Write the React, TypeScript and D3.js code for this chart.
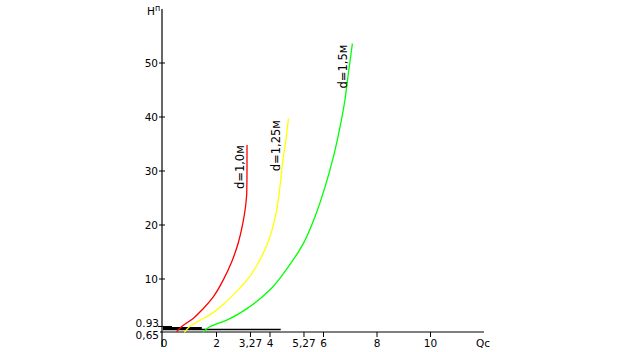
import React, { useEffect, useRef } from 'react';
import * as d3 from 'd3';

// Q (x) vs H (y)
const redQ = [0.5, 0.7, 1.13, 1.5, 1.88, 2.25, 2.57, 2.82, 2.98, 3.08, 3.13, 3.14, 3.14];
const redH = [0.2, 1.2, 2.7, 4.5, 6.7, 9.8, 13.2, 16.8, 20.2, 23.2, 26.0, 30.0, 34.8];

const yellowQ = [0.8, 1.0, 1.4, 1.76, 2.38, 2.9, 3.25, 3.55, 3.94, 4.22, 4.37, 4.47, 4.6, 4.69];
const yellowH = [0.1, 1.2, 2.4, 3.4, 5.9, 8.5, 10.5, 12.9, 17.0, 22.0, 27.0, 31.5, 36.0, 39.7];

const greenQ = [1.5, 1.76, 2.38, 3.25, 4.0, 4.69, 5.25, 5.68, 6.06, 6.37, 6.62, 6.8, 6.93, 7.08];
const greenH = [0.1, 1.2, 2.4, 4.9, 8.0, 12.3, 16.6, 21.5, 27.1, 32.6, 38.2, 43.1, 48.1, 53.6];

const seriesNames = ['d=1,0м', 'd=1,25м', 'd=1,5м'];
const seriesColors = ['#ff0000', '#ffff00', '#00ff00'];

const xTicks = [0, 2, 3.27, 4, 5.27, 6, 8, 10];
const yTicks = [10, 20, 30, 40, 50];

// flat black lines near the bottom
const flatH = [0.93, 0.65];
const flatQEnd = [1.45, 4.4];

const fmt = (v: number) => String(v).replace('.', ',');

const App = () => {
  const ref = useRef<SVGSVGElement | null>(null);

  useEffect(() => {
    if (!ref.current) return;
    const svg = d3.select(ref.current);
    svg.selectAll('*').remove();

    const x = d3.scaleLinear().domain([0, 12]).range([163, 484]);
    const y = d3.scaleLinear().domain([0, 60]).range([333, 9]);

    const font = 'DejaVu Sans, sans-serif';

    // axes
    svg.append('line')
      .attr('x1', x(0) - 1).attr('x2', x(0) - 1)
      .attr('y1', y(60)).attr('y2', y(0) + 14)
      .attr('stroke', '#000').attr('stroke-width', 1.2);
    svg.append('line')
      .attr('x1', x(0) - 3).attr('x2', x(12))
      .attr('y1', y(0) - 1).attr('y2', y(0) - 1)
      .attr('stroke', '#000').attr('stroke-width', 1.2);

    // x ticks
    const xt = svg.append('g');
    xTicks.forEach(t => {
      if (t !== 0) {
        xt.append('line')
          .attr('x1', x(t)).attr('x2', x(t))
          .attr('y1', y(0) - 1).attr('y2', y(0) + 4)
          .attr('stroke', '#000');
      }
      xt.append('text')
        .attr('x', x(t) + (t === 0 ? 1 : 0))
        .attr('y', y(0) + 14)
        .attr('text-anchor', 'middle')
        .style('font-family', font)
        .style('font-size', '10.5px')
        .text(fmt(t));
    });

    // y ticks
    const yt = svg.append('g');
    yTicks.forEach(t => {
      yt.append('line')
        .attr('x1', x(0) - 4).attr('x2', x(0) + 2)
        .attr('y1', y(t)).attr('y2', y(t))
        .attr('stroke', '#000');
      yt.append('text')
        .attr('x', x(0) - 5)
        .attr('y', y(t) + 4)
        .attr('text-anchor', 'end')
        .style('font-family', font)
        .style('font-size', '10.5px')
        .text(t);
    });

    // 0.93 / 0,65 labels
    yt.append('text')
      .attr('x', x(0) - 4).attr('y', y(flatH[0]) - 0.5)
      .attr('text-anchor', 'end')
      .style('font-family', font).style('font-size', '10.5px')
      .text('0.93');
    yt.append('line')
      .attr('x1', x(0) - 5).attr('x2', x(0) + 9)
      .attr('y1', y(flatH[0]) - 1.5).attr('y2', y(flatH[0]) - 1.5)
      .attr('stroke', '#000');
    yt.append('text')
      .attr('x', x(0) - 4).attr('y', y(flatH[1]) + 10)
      .attr('text-anchor', 'end')
      .style('font-family', font).style('font-size', '10.5px')
      .text('0,65');

    // flat black lines
    flatH.forEach((h, i) => {
      svg.append('line')
        .attr('x1', x(0)).attr('x2', x(flatQEnd[i]))
        .attr('y1', y(h)).attr('y2', y(h))
        .attr('stroke', '#000')
        .attr('stroke-width', i === 0 ? 2.2 : 1.4);
    });

    // axis names
    const hl = svg.append('text')
      .attr('x', x(0) - 16).attr('y', y(60) + 6)
      .style('font-family', font).style('font-size', '10.5px');
    hl.append('tspan').text('H');
    hl.append('tspan').attr('dy', -4).style('font-size', '8px').text('п');

    svg.append('text')
      .attr('x', x(12) - 1).attr('y', y(0) + 14)
      .attr('text-anchor', 'middle')
      .style('font-family', font).style('font-size', '10.5px')
      .text('Qc');

    // curves
    const seriesQ = [redQ, yellowQ, greenQ];
    const seriesH = [redH, yellowH, greenH];
    const labelOff = [[-3, 22], [-8, 27], [-5, 23]];

    const line = d3.line<[number, number]>()
      .x(d => x(d[0]))
      .y(d => y(d[1]))
      .curve(d3.curveMonotoneY);

    seriesQ.forEach((qs, i) => {
      const pts = qs.map((q, j) => [q, seriesH[i][j]] as [number, number]);
      svg.append('path')
        .attr('d', line(pts))
        .attr('fill', 'none')
        .attr('stroke', seriesColors[i])
        .attr('stroke-width', 1.3);

      const last = pts[pts.length - 1];
      const lx = x(last[0]) + labelOff[i][0];
      const ly = y(last[1]) + labelOff[i][1];
      svg.append('text')
        .attr('transform', `translate(${lx},${ly}) rotate(-90)`)
        .attr('text-anchor', 'middle')
        .style('font-family', font)
        .style('font-size', '11.5px')
        .text(seriesNames[i]);
    });
  }, []);

  return (
    <div style={{ position: 'absolute', left: 0, top: 0, width: 624, height: 352, background: '#fff' }}>
      <svg ref={ref} width={624} height={352} style={{ display: 'block' }} />
    </div>
  );
};

export default App;
